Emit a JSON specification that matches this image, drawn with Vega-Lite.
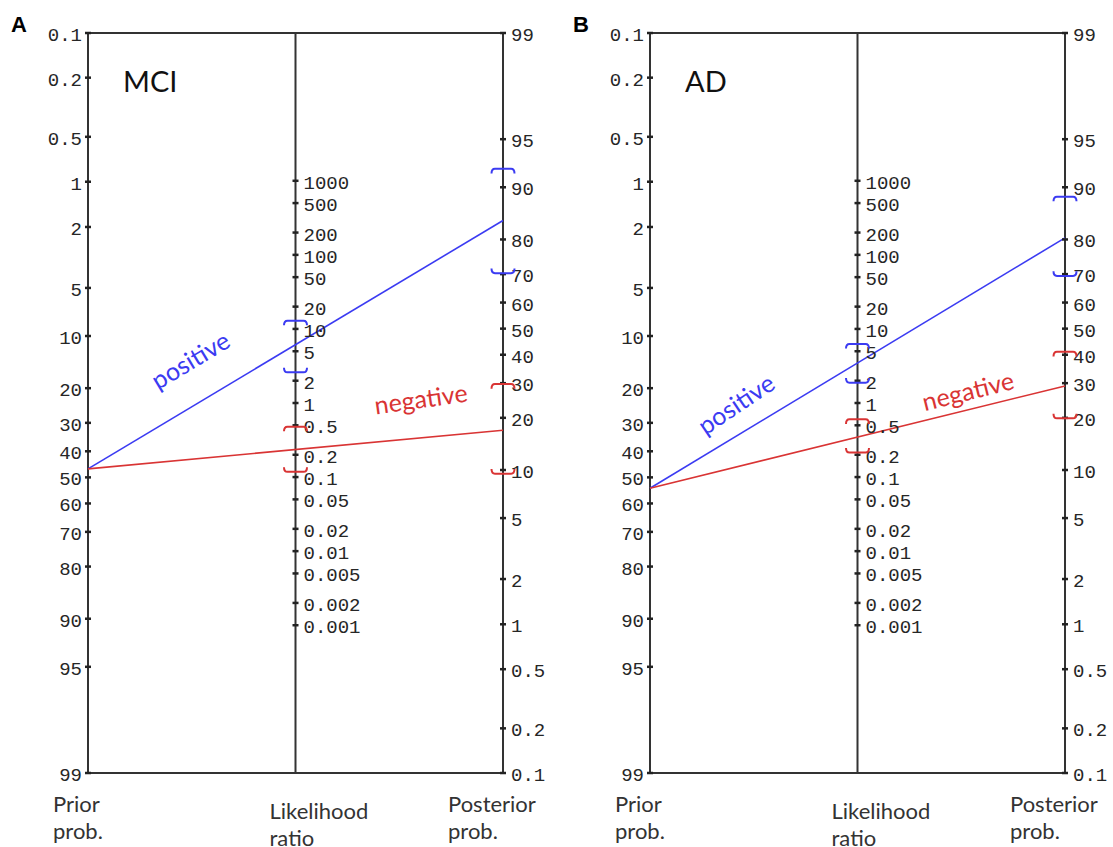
{
  "$schema": "https://vega.github.io/schema/vega-lite/v6.json",
  "padding": 0,
  "spacing": 11,
  "bounds": "flush",
  "config": {"view": {"stroke": null}},
  "data": {"values": [
    {"kind": "frame", "panel": "all", "ax": 0, "ax2": 0, "scale": "prior", "v": 0.1, "scale2": "prior", "v2": 99},
    {"kind": "frame", "panel": "all", "ax": 1, "ax2": 1, "scale": "prior", "v": 0.1, "scale2": "prior", "v2": 99},
    {"kind": "frame", "panel": "all", "ax": 2, "ax2": 2, "scale": "prior", "v": 0.1, "scale2": "prior", "v2": 99},
    {"kind": "frame", "panel": "all", "ax": 0, "ax2": 2, "scale": "prior", "v": 0.1, "scale2": "prior", "v2": 0.1},
    {"kind": "frame", "panel": "all", "ax": 0, "ax2": 2, "scale": "prior", "v": 99, "scale2": "prior", "v2": 99},

    {"kind": "tick", "panel": "all", "ax": 0, "scale": "prior", "v": 0.1, "label": "0.1"},
    {"kind": "tick", "panel": "all", "ax": 0, "scale": "prior", "v": 0.2, "label": "0.2"},
    {"kind": "tick", "panel": "all", "ax": 0, "scale": "prior", "v": 0.5, "label": "0.5"},
    {"kind": "tick", "panel": "all", "ax": 0, "scale": "prior", "v": 1, "label": "1"},
    {"kind": "tick", "panel": "all", "ax": 0, "scale": "prior", "v": 2, "label": "2"},
    {"kind": "tick", "panel": "all", "ax": 0, "scale": "prior", "v": 5, "label": "5"},
    {"kind": "tick", "panel": "all", "ax": 0, "scale": "prior", "v": 10, "label": "10"},
    {"kind": "tick", "panel": "all", "ax": 0, "scale": "prior", "v": 20, "label": "20"},
    {"kind": "tick", "panel": "all", "ax": 0, "scale": "prior", "v": 30, "label": "30"},
    {"kind": "tick", "panel": "all", "ax": 0, "scale": "prior", "v": 40, "label": "40"},
    {"kind": "tick", "panel": "all", "ax": 0, "scale": "prior", "v": 50, "label": "50"},
    {"kind": "tick", "panel": "all", "ax": 0, "scale": "prior", "v": 60, "label": "60"},
    {"kind": "tick", "panel": "all", "ax": 0, "scale": "prior", "v": 70, "label": "70"},
    {"kind": "tick", "panel": "all", "ax": 0, "scale": "prior", "v": 80, "label": "80"},
    {"kind": "tick", "panel": "all", "ax": 0, "scale": "prior", "v": 90, "label": "90"},
    {"kind": "tick", "panel": "all", "ax": 0, "scale": "prior", "v": 95, "label": "95"},
    {"kind": "tick", "panel": "all", "ax": 0, "scale": "prior", "v": 99, "label": "99"},

    {"kind": "tick", "panel": "all", "ax": 1, "scale": "lr", "v": 1000, "label": "1000"},
    {"kind": "tick", "panel": "all", "ax": 1, "scale": "lr", "v": 500, "label": "500"},
    {"kind": "tick", "panel": "all", "ax": 1, "scale": "lr", "v": 200, "label": "200"},
    {"kind": "tick", "panel": "all", "ax": 1, "scale": "lr", "v": 100, "label": "100"},
    {"kind": "tick", "panel": "all", "ax": 1, "scale": "lr", "v": 50, "label": "50"},
    {"kind": "tick", "panel": "all", "ax": 1, "scale": "lr", "v": 20, "label": "20"},
    {"kind": "tick", "panel": "all", "ax": 1, "scale": "lr", "v": 10, "label": "10"},
    {"kind": "tick", "panel": "all", "ax": 1, "scale": "lr", "v": 5, "label": "5"},
    {"kind": "tick", "panel": "all", "ax": 1, "scale": "lr", "v": 2, "label": "2"},
    {"kind": "tick", "panel": "all", "ax": 1, "scale": "lr", "v": 1, "label": "1"},
    {"kind": "tick", "panel": "all", "ax": 1, "scale": "lr", "v": 0.5, "label": "0.5"},
    {"kind": "tick", "panel": "all", "ax": 1, "scale": "lr", "v": 0.2, "label": "0.2"},
    {"kind": "tick", "panel": "all", "ax": 1, "scale": "lr", "v": 0.1, "label": "0.1"},
    {"kind": "tick", "panel": "all", "ax": 1, "scale": "lr", "v": 0.05, "label": "0.05"},
    {"kind": "tick", "panel": "all", "ax": 1, "scale": "lr", "v": 0.02, "label": "0.02"},
    {"kind": "tick", "panel": "all", "ax": 1, "scale": "lr", "v": 0.01, "label": "0.01"},
    {"kind": "tick", "panel": "all", "ax": 1, "scale": "lr", "v": 0.005, "label": "0.005"},
    {"kind": "tick", "panel": "all", "ax": 1, "scale": "lr", "v": 0.002, "label": "0.002"},
    {"kind": "tick", "panel": "all", "ax": 1, "scale": "lr", "v": 0.001, "label": "0.001"},

    {"kind": "tick", "panel": "all", "ax": 2, "scale": "post", "v": 99, "label": "99"},
    {"kind": "tick", "panel": "all", "ax": 2, "scale": "post", "v": 95, "label": "95"},
    {"kind": "tick", "panel": "all", "ax": 2, "scale": "post", "v": 90, "label": "90"},
    {"kind": "tick", "panel": "all", "ax": 2, "scale": "post", "v": 80, "label": "80"},
    {"kind": "tick", "panel": "all", "ax": 2, "scale": "post", "v": 70, "label": "70"},
    {"kind": "tick", "panel": "all", "ax": 2, "scale": "post", "v": 60, "label": "60"},
    {"kind": "tick", "panel": "all", "ax": 2, "scale": "post", "v": 50, "label": "50"},
    {"kind": "tick", "panel": "all", "ax": 2, "scale": "post", "v": 40, "label": "40"},
    {"kind": "tick", "panel": "all", "ax": 2, "scale": "post", "v": 30, "label": "30"},
    {"kind": "tick", "panel": "all", "ax": 2, "scale": "post", "v": 20, "label": "20"},
    {"kind": "tick", "panel": "all", "ax": 2, "scale": "post", "v": 10, "label": "10"},
    {"kind": "tick", "panel": "all", "ax": 2, "scale": "post", "v": 5, "label": "5"},
    {"kind": "tick", "panel": "all", "ax": 2, "scale": "post", "v": 2, "label": "2"},
    {"kind": "tick", "panel": "all", "ax": 2, "scale": "post", "v": 1, "label": "1"},
    {"kind": "tick", "panel": "all", "ax": 2, "scale": "post", "v": 0.5, "label": "0.5"},
    {"kind": "tick", "panel": "all", "ax": 2, "scale": "post", "v": 0.2, "label": "0.2"},
    {"kind": "tick", "panel": "all", "ax": 2, "scale": "post", "v": 0.1, "label": "0.1"},

    {"kind": "line", "panel": "A", "sign": "positive", "ax": 0, "scale": "prior", "v": 46.7, "ax2": 2, "scale2": "post", "v2": 84.3},
    {"kind": "line", "panel": "A", "sign": "negative", "ax": 0, "scale": "prior", "v": 46.7, "ax2": 2, "scale2": "post", "v2": 17.1},
    {"kind": "line", "panel": "B", "sign": "positive", "ax": 0, "scale": "prior", "v": 54.2, "ax2": 2, "scale2": "post", "v2": 80.4},
    {"kind": "line", "panel": "B", "sign": "negative", "ax": 0, "scale": "prior", "v": 54.2, "ax2": 2, "scale2": "post", "v2": 29.1},

    {"kind": "ci", "panel": "A", "sign": "positive", "bound": "hi", "ax": 1, "scale": "lr", "v": 12.9},
    {"kind": "ci", "panel": "A", "sign": "positive", "bound": "lo", "ax": 1, "scale": "lr", "v": 2.6},
    {"kind": "ci", "panel": "A", "sign": "negative", "bound": "hi", "ax": 1, "scale": "lr", "v": 0.479},
    {"kind": "ci", "panel": "A", "sign": "negative", "bound": "lo", "ax": 1, "scale": "lr", "v": 0.118},
    {"kind": "ci", "panel": "A", "sign": "positive", "bound": "hi", "ax": 2, "scale": "post", "v": 92.3},
    {"kind": "ci", "panel": "A", "sign": "positive", "bound": "lo", "ax": 2, "scale": "post", "v": 70.3},
    {"kind": "ci", "panel": "A", "sign": "negative", "bound": "hi", "ax": 2, "scale": "post", "v": 29.7},
    {"kind": "ci", "panel": "A", "sign": "negative", "bound": "lo", "ax": 2, "scale": "post", "v": 9.5},
    {"kind": "ci", "panel": "B", "sign": "positive", "bound": "hi", "ax": 1, "scale": "lr", "v": 6.26},
    {"kind": "ci", "panel": "B", "sign": "positive", "bound": "lo", "ax": 1, "scale": "lr", "v": 1.88},
    {"kind": "ci", "panel": "B", "sign": "negative", "bound": "hi", "ax": 1, "scale": "lr", "v": 0.603},
    {"kind": "ci", "panel": "B", "sign": "negative", "bound": "lo", "ax": 1, "scale": "lr", "v": 0.214},
    {"kind": "ci", "panel": "B", "sign": "positive", "bound": "hi", "ax": 2, "scale": "post", "v": 88.6},
    {"kind": "ci", "panel": "B", "sign": "positive", "bound": "lo", "ax": 2, "scale": "post", "v": 69.4},
    {"kind": "ci", "panel": "B", "sign": "negative", "bound": "hi", "ax": 2, "scale": "post", "v": 41.1},
    {"kind": "ci", "panel": "B", "sign": "negative", "bound": "lo", "ax": 2, "scale": "post", "v": 19.9},

    {"kind": "letter", "panel": "A", "ax": 0, "scale": "prior", "v": 0.1, "label": "A"},
    {"kind": "letter", "panel": "B", "ax": 0, "scale": "prior", "v": 0.1, "label": "B"},
    {"kind": "title", "panel": "A", "ax": 0, "scale": "prior", "v": 0.1, "label": "MCI"},
    {"kind": "title", "panel": "B", "ax": 0, "scale": "prior", "v": 0.1, "label": "AD"},
    {"kind": "note", "panel": "A", "sign": "positive", "label": "positive", "ax": 0.496, "scale": "prior", "v": 14.1},
    {"kind": "note", "panel": "A", "sign": "negative", "label": "negative", "ax": 1.605, "scale": "prior", "v": 23.1},
    {"kind": "note", "panel": "B", "sign": "positive", "label": "positive", "ax": 0.418, "scale": "prior", "v": 24.5},
    {"kind": "note", "panel": "B", "sign": "negative", "label": "negative", "ax": 1.534, "scale": "prior", "v": 21.0},

    {"kind": "bottom", "panel": "all", "ax": 0, "scale": "prior", "v": 99, "label": "Prior\nprob."},
    {"kind": "bottom", "panel": "all", "ax": 1, "scale": "prior", "v": 99, "label": "Likelihood\nratio"},
    {"kind": "bottom", "panel": "all", "ax": 2, "scale": "prior", "v": 99, "label": "Posterior\nprob."}
  ]},
  "hconcat": [
    {
      "width": 551,
      "height": 847,
      "transform": [
        {"filter": "datum.panel == 'all' || datum.panel == 'A'"},
        {"calculate": "datum.scale == 'lr' ? -1.15582 - log(datum.v) / 2 : (datum.scale == 'post' ? -2.31164 - log(datum.v / (100 - datum.v)) : log(datum.v / (100 - datum.v)))", "as": "t"},
        {"calculate": "datum.v2 == null ? null : (datum.scale2 == 'lr' ? -1.15582 - log(datum.v2) / 2 : (datum.scale2 == 'post' ? -2.31164 - log(datum.v2 / (100 - datum.v2)) : log(datum.v2 / (100 - datum.v2))))", "as": "t2"}
      ],
      "encoding": {
        "x": {"field": "ax", "type": "quantitative", "scale": {"domain": [-0.4241, 2.2313], "nice": false, "zero": false}, "axis": null},
        "y": {"field": "t", "type": "quantitative", "scale": {"domain": [-7.4197, 5.7452], "reverse": true, "nice": false, "zero": false}, "axis": null}
      },
      "layer": [
        {"transform": [{"filter": "datum.kind == 'frame'"}], "mark": {"type": "rule", "color": "#333333", "strokeWidth": 2}, "encoding": {"x2": {"field": "ax2"}, "y2": {"field": "t2"}}},
        {"transform": [{"filter": "datum.kind == 'line'"}], "mark": {"type": "rule", "strokeWidth": 1.6}, "encoding": {"x2": {"field": "ax2"}, "y2": {"field": "t2"}, "color": {"field": "sign", "type": "nominal", "scale": {"domain": ["positive", "negative"], "range": ["#3b3bf2", "#d93434"]}, "legend": null}}},
        {"transform": [{"filter": "datum.kind == 'tick'"}], "mark": {"type": "point", "shape": "stroke", "size": 36, "filled": false, "strokeWidth": 2.5, "color": "#222222", "opacity": 1}},
        {"transform": [{"filter": "datum.kind == 'tick' && datum.scale == 'prior'"}], "mark": {"type": "text", "align": "right", "baseline": "middle", "dx": -6, "dy": 2, "font": "Liberation Mono", "fontSize": 19, "color": "#262626"}, "encoding": {"text": {"field": "label"}}},
        {"transform": [{"filter": "datum.kind == 'tick' && datum.scale != 'prior'"}], "mark": {"type": "text", "align": "left", "baseline": "middle", "dx": 8, "dy": 2, "font": "Liberation Mono", "fontSize": 19, "color": "#262626"}, "encoding": {"text": {"field": "label"}}},
        {"transform": [{"filter": "datum.kind == 'ci'"}], "mark": {"type": "point", "filled": false, "strokeWidth": 2, "size": 529, "opacity": 1}, "encoding": {"shape": {"field": "bound", "type": "nominal", "scale": {"domain": ["hi", "lo"], "range": ["M -1 0.4 Q -1 0 -0.7 0 L 0.7 0 Q 1 0 1 0.4", "M -1 -0.4 Q -1 0 -0.7 0 L 0.7 0 Q 1 0 1 -0.4"]}, "legend": null}, "color": {"field": "sign", "type": "nominal", "legend": null}}},
        {"transform": [{"filter": "datum.kind == 'letter'"}], "mark": {"type": "text", "align": "left", "baseline": "alphabetic", "dx": -77, "dy": -1, "font": "Liberation Sans", "fontWeight": "bold", "fontSize": 22, "color": "#000000"}, "encoding": {"text": {"field": "label"}}},
        {"transform": [{"filter": "datum.kind == 'title'"}], "mark": {"type": "text", "align": "left", "baseline": "alphabetic", "dx": 35, "dy": 59, "font": "Lato", "fontSize": 29, "color": "#111111"}, "encoding": {"text": {"field": "label"}}},
        {"transform": [{"filter": "datum.kind == 'note' && datum.sign == 'positive'"}], "mark": {"type": "text", "align": "center", "baseline": "middle", "angle": -31, "font": "Lato", "fontSize": 25}, "encoding": {"text": {"field": "label"}, "color": {"field": "sign", "type": "nominal", "legend": null}}},
        {"transform": [{"filter": "datum.kind == 'note' && datum.sign == 'negative'"}], "mark": {"type": "text", "align": "center", "baseline": "middle", "angle": -8, "font": "Lato", "fontSize": 25}, "encoding": {"text": {"field": "label"}, "color": {"field": "sign", "type": "nominal", "legend": null}}},
        {"transform": [{"filter": "datum.kind == 'bottom' && datum.ax == 0"}], "mark": {"type": "text", "align": "left", "baseline": "top", "dx": -35, "dy": 22, "lineBreak": "\n", "lineHeight": 27, "font": "Lato", "fontSize": 22, "color": "#333333"}, "encoding": {"text": {"field": "label"}}},
        {"transform": [{"filter": "datum.kind == 'bottom' && datum.ax == 1"}], "mark": {"type": "text", "align": "left", "baseline": "top", "dx": -26, "dy": 29, "lineBreak": "\n", "lineHeight": 27, "font": "Lato", "fontSize": 22, "color": "#333333"}, "encoding": {"text": {"field": "label"}}},
        {"transform": [{"filter": "datum.kind == 'bottom' && datum.ax == 2"}], "mark": {"type": "text", "align": "left", "baseline": "top", "dx": -55, "dy": 22, "lineBreak": "\n", "lineHeight": 27, "font": "Lato", "fontSize": 22, "color": "#333333"}, "encoding": {"text": {"field": "label"}}}
      ]
    },
    {
      "width": 551,
      "height": 847,
      "transform": [
        {"filter": "datum.panel == 'all' || datum.panel == 'B'"},
        {"calculate": "datum.scale == 'lr' ? -1.15582 - log(datum.v) / 2 : (datum.scale == 'post' ? -2.31164 - log(datum.v / (100 - datum.v)) : log(datum.v / (100 - datum.v)))", "as": "t"},
        {"calculate": "datum.v2 == null ? null : (datum.scale2 == 'lr' ? -1.15582 - log(datum.v2) / 2 : (datum.scale2 == 'post' ? -2.31164 - log(datum.v2 / (100 - datum.v2)) : log(datum.v2 / (100 - datum.v2))))", "as": "t2"}
      ],
      "encoding": {
        "x": {"field": "ax", "type": "quantitative", "scale": {"domain": [-0.4241, 2.2313], "nice": false, "zero": false}, "axis": null},
        "y": {"field": "t", "type": "quantitative", "scale": {"domain": [-7.4197, 5.7452], "reverse": true, "nice": false, "zero": false}, "axis": null}
      },
      "layer": [
        {"transform": [{"filter": "datum.kind == 'frame'"}], "mark": {"type": "rule", "color": "#333333", "strokeWidth": 2}, "encoding": {"x2": {"field": "ax2"}, "y2": {"field": "t2"}}},
        {"transform": [{"filter": "datum.kind == 'line'"}], "mark": {"type": "rule", "strokeWidth": 1.6}, "encoding": {"x2": {"field": "ax2"}, "y2": {"field": "t2"}, "color": {"field": "sign", "type": "nominal", "scale": {"domain": ["positive", "negative"], "range": ["#3b3bf2", "#d93434"]}, "legend": null}}},
        {"transform": [{"filter": "datum.kind == 'tick'"}], "mark": {"type": "point", "shape": "stroke", "size": 36, "filled": false, "strokeWidth": 2.5, "color": "#222222", "opacity": 1}},
        {"transform": [{"filter": "datum.kind == 'tick' && datum.scale == 'prior'"}], "mark": {"type": "text", "align": "right", "baseline": "middle", "dx": -6, "dy": 2, "font": "Liberation Mono", "fontSize": 19, "color": "#262626"}, "encoding": {"text": {"field": "label"}}},
        {"transform": [{"filter": "datum.kind == 'tick' && datum.scale != 'prior'"}], "mark": {"type": "text", "align": "left", "baseline": "middle", "dx": 8, "dy": 2, "font": "Liberation Mono", "fontSize": 19, "color": "#262626"}, "encoding": {"text": {"field": "label"}}},
        {"transform": [{"filter": "datum.kind == 'ci'"}], "mark": {"type": "point", "filled": false, "strokeWidth": 2, "size": 529, "opacity": 1}, "encoding": {"shape": {"field": "bound", "type": "nominal", "scale": {"domain": ["hi", "lo"], "range": ["M -1 0.4 Q -1 0 -0.7 0 L 0.7 0 Q 1 0 1 0.4", "M -1 -0.4 Q -1 0 -0.7 0 L 0.7 0 Q 1 0 1 -0.4"]}, "legend": null}, "color": {"field": "sign", "type": "nominal", "legend": null}}},
        {"transform": [{"filter": "datum.kind == 'letter'"}], "mark": {"type": "text", "align": "left", "baseline": "alphabetic", "dx": -77, "dy": -1, "font": "Liberation Sans", "fontWeight": "bold", "fontSize": 22, "color": "#000000"}, "encoding": {"text": {"field": "label"}}},
        {"transform": [{"filter": "datum.kind == 'title'"}], "mark": {"type": "text", "align": "left", "baseline": "alphabetic", "dx": 35, "dy": 59, "font": "Lato", "fontSize": 29, "color": "#111111"}, "encoding": {"text": {"field": "label"}}},
        {"transform": [{"filter": "datum.kind == 'note' && datum.sign == 'positive'"}], "mark": {"type": "text", "align": "center", "baseline": "middle", "angle": -34, "font": "Lato", "fontSize": 25}, "encoding": {"text": {"field": "label"}, "color": {"field": "sign", "type": "nominal", "legend": null}}},
        {"transform": [{"filter": "datum.kind == 'note' && datum.sign == 'negative'"}], "mark": {"type": "text", "align": "center", "baseline": "middle", "angle": -14, "font": "Lato", "fontSize": 25}, "encoding": {"text": {"field": "label"}, "color": {"field": "sign", "type": "nominal", "legend": null}}},
        {"transform": [{"filter": "datum.kind == 'bottom' && datum.ax == 0"}], "mark": {"type": "text", "align": "left", "baseline": "top", "dx": -35, "dy": 22, "lineBreak": "\n", "lineHeight": 27, "font": "Lato", "fontSize": 22, "color": "#333333"}, "encoding": {"text": {"field": "label"}}},
        {"transform": [{"filter": "datum.kind == 'bottom' && datum.ax == 1"}], "mark": {"type": "text", "align": "left", "baseline": "top", "dx": -26, "dy": 29, "lineBreak": "\n", "lineHeight": 27, "font": "Lato", "fontSize": 22, "color": "#333333"}, "encoding": {"text": {"field": "label"}}},
        {"transform": [{"filter": "datum.kind == 'bottom' && datum.ax == 2"}], "mark": {"type": "text", "align": "left", "baseline": "top", "dx": -55, "dy": 22, "lineBreak": "\n", "lineHeight": 27, "font": "Lato", "fontSize": 22, "color": "#333333"}, "encoding": {"text": {"field": "label"}}}
      ]
    }
  ]
}
